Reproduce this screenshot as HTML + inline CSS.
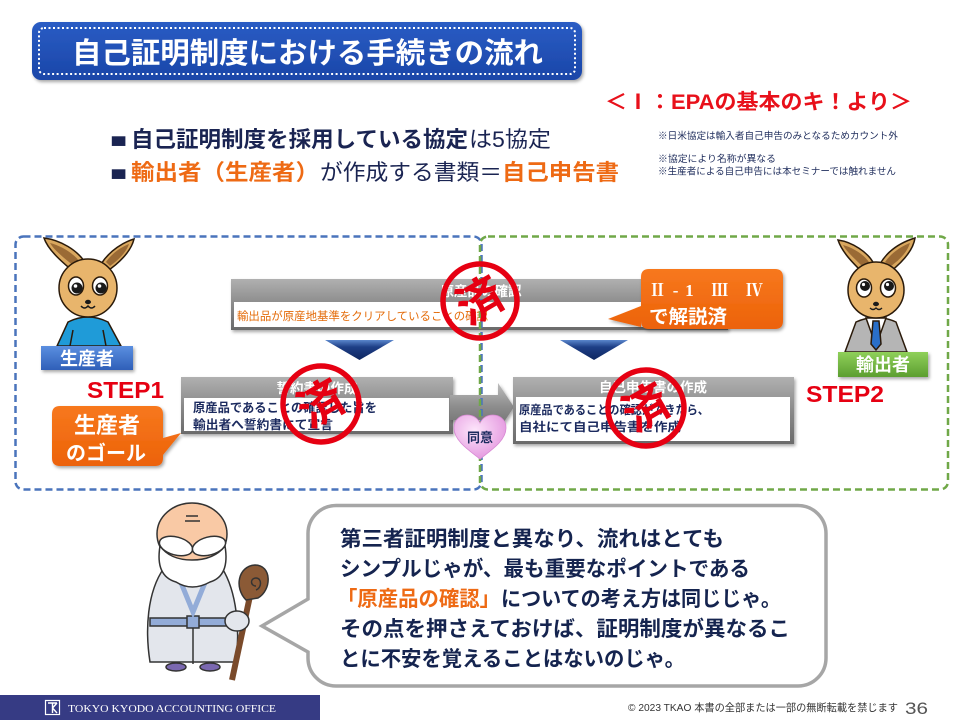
<!DOCTYPE html>
<html><head><meta charset="utf-8"><style>
html,body{margin:0;padding:0;background:#fff}
body{width:960px;height:720px;overflow:hidden;position:relative}
svg{position:absolute;left:0;top:0}
text{font-family:"Liberation Sans","Noto Sans CJK JP",sans-serif}
text.serif{font-family:"Liberation Serif","Noto Serif CJK SC",serif}
</style></head><body>
<svg width="960" height="720" viewBox="0 0 960 720" xmlns="http://www.w3.org/2000/svg">
<defs>
<linearGradient id="tg" x1="0" y1="0" x2="0" y2="1"><stop offset="0" stop-color="#2a5cc4"/><stop offset="1" stop-color="#1a46a8"/></linearGradient>
<linearGradient id="hg" x1="0" y1="0" x2="0" y2="1"><stop offset="0" stop-color="#b0b0b0"/><stop offset="0.5" stop-color="#8a8a8a"/><stop offset="1" stop-color="#6a6a6a"/></linearGradient>
<linearGradient id="ag" x1="0" y1="0" x2="0" y2="1"><stop offset="0" stop-color="#5a86cc"/><stop offset="0.35" stop-color="#1e3f86"/><stop offset="1" stop-color="#0e2660"/></linearGradient>
<linearGradient id="gag" x1="0" y1="0" x2="0" y2="1"><stop offset="0" stop-color="#bdbdbd"/><stop offset="0.5" stop-color="#8c8c8c"/><stop offset="1" stop-color="#6c6c6c"/></linearGradient>
<linearGradient id="og" x1="0" y1="0" x2="0" y2="1"><stop offset="0" stop-color="#f7781e"/><stop offset="1" stop-color="#ec6208"/></linearGradient>
<linearGradient id="bl" x1="0" y1="0" x2="0" y2="1"><stop offset="0" stop-color="#5b8fe0"/><stop offset="1" stop-color="#2f5fb8"/></linearGradient>
<linearGradient id="gl" x1="0" y1="0" x2="0" y2="1"><stop offset="0" stop-color="#8fd05a"/><stop offset="1" stop-color="#5c9e30"/></linearGradient>
<radialGradient id="hr" cx="0.4" cy="0.35" r="0.7"><stop offset="0" stop-color="#fde6fb"/><stop offset="1" stop-color="#e394de"/></radialGradient>
<filter id="sh" x="-10%" y="-20%" width="120%" height="150%"><feDropShadow dx="1.5" dy="2" stdDeviation="1.5" flood-color="#000" flood-opacity="0.35"/></filter>
</defs>

<!-- Title -->
<rect x="32" y="22" width="550" height="58" rx="9" fill="url(#tg)" filter="url(#sh)"/>
<rect x="39" y="28" width="536" height="46" rx="5" fill="none" stroke="#fff" stroke-width="2" stroke-dasharray="2 2.5"/>
<text x="72" y="63" font-size="29" font-weight="bold" fill="#fff" textLength="471" lengthAdjust="spacingAndGlyphs">自己証明制度における手続きの流れ</text>

<!-- Red subtitle -->
<text x="605" y="109" font-size="21" font-weight="bold" fill="#e8101a" textLength="307" lengthAdjust="spacingAndGlyphs">＜Ⅰ：EPAの基本のキ！より＞</text>

<!-- Bullets -->
<text x="110" y="147" font-size="20" fill="#1a2452" textLength="17" lengthAdjust="spacingAndGlyphs">■</text>
<text x="131" y="147" font-size="22" font-weight="bold" fill="#1a2452" textLength="337" lengthAdjust="spacingAndGlyphs">自己証明制度を採用している協定</text>
<text x="469" y="147" font-size="22" fill="#1a2452" textLength="82" lengthAdjust="spacingAndGlyphs">は5協定</text>
<text x="110" y="180" font-size="20" fill="#1a2452" textLength="17" lengthAdjust="spacingAndGlyphs">■</text>
<text x="131" y="180" font-size="22" font-weight="bold" fill="#ee6a14" textLength="188" lengthAdjust="spacingAndGlyphs">輸出者（生産者）</text>
<text x="320" y="180" font-size="22" fill="#1a2452" textLength="182" lengthAdjust="spacingAndGlyphs">が作成する書類＝</text>
<text x="502" y="180" font-size="22" font-weight="bold" fill="#ee6a14" textLength="117" lengthAdjust="spacingAndGlyphs">自己申告書</text>

<!-- Notes -->
<text x="658" y="139" font-size="9.6" fill="#1f2d5c" textLength="240" lengthAdjust="spacingAndGlyphs">※日米協定は輸入者自己申告のみとなるためカウント外</text>
<text x="658" y="162" font-size="9.6" fill="#1f2d5c" textLength="118" lengthAdjust="spacingAndGlyphs">※協定により名称が異なる</text>
<text x="658" y="174.5" font-size="9.6" fill="#1f2d5c" textLength="238" lengthAdjust="spacingAndGlyphs">※生産者による自己申告には本セミナーでは触れません</text>

<!-- Box 1 -->
<g filter="url(#sh)">
<rect x="231" y="279" width="497" height="51" fill="url(#hg)"/>
<rect x="234" y="302" width="488" height="25" fill="#fff"/>
</g>
<text x="481" y="296" font-size="13.5" font-weight="bold" fill="#fff" text-anchor="middle">原産品の確認</text>
<text x="237" y="320" font-size="11.5" fill="#e46c0a" textLength="251" lengthAdjust="spacingAndGlyphs">輸出品が原産地基準をクリアしていることの確認</text>

<!-- Down arrows -->
<polygon points="325,340 394,340 359.5,360" fill="url(#ag)"/>
<polygon points="560,340 628,340 594,360" fill="url(#ag)"/>

<!-- Box 2 -->
<g filter="url(#sh)">
<rect x="181" y="377" width="272" height="57" fill="url(#hg)"/>
<rect x="184" y="398" width="265" height="33" fill="#fff"/>
</g>
<text x="317" y="393" font-size="13.5" font-weight="bold" fill="#fff" text-anchor="middle">誓約書の作成</text>
<text x="193" y="412" font-size="12.3" font-weight="bold" fill="#1b2a5e" textLength="184" lengthAdjust="spacingAndGlyphs">原産品であることの確認した旨を</text>
<text x="193" y="429" font-size="12.3" font-weight="bold" fill="#1b2a5e" textLength="140" lengthAdjust="spacingAndGlyphs">輸出者へ誓約書にて宣言</text>

<!-- Gray arrow -->
<polygon points="450,395 498,395 498,383 514,407 498,431 498,420 450,420" fill="url(#gag)" filter="url(#sh)"/>

<!-- Box 3 -->
<g filter="url(#sh)">
<rect x="513" y="377" width="281" height="67" fill="url(#hg)"/>
<rect x="516" y="397" width="274" height="44" fill="#fff"/>
</g>
<text x="653" y="392" font-size="13.5" font-weight="bold" fill="#fff" text-anchor="middle">自己申告書の作成</text>
<text x="519" y="414" font-size="12" font-weight="bold" fill="#1b2a5e" textLength="190" lengthAdjust="spacingAndGlyphs">原産品であることの確認ができたら、</text>
<text x="519" y="431" font-size="12" font-weight="bold" fill="#1b2a5e" textLength="162" lengthAdjust="spacingAndGlyphs">自社にて自己申告書を作成</text>

<!-- Dashed frames -->
<rect x="15.5" y="236.5" width="466" height="253" rx="8" fill="none" stroke="#4a74bc" stroke-width="2.5" stroke-dasharray="7 4"/>
<rect x="480" y="236.5" width="468" height="253" rx="8" fill="none" stroke="#70a848" stroke-width="2.5" stroke-dasharray="7 4"/>

<!-- Heart -->
<path d="M480 459 C470 451,454 441,454 428 C454 419,461 415,467 415 C474 415,478 419,480 423 C482 419,486 415,493 415 C499 415,506 419,506 428 C506 441,490 451,480 459 Z" fill="url(#hr)" stroke="#d88ad4" stroke-width="0.8"/>
<text x="480" y="442" font-size="13" font-weight="bold" fill="#1b2a5e" text-anchor="middle">同意</text>

<!-- Orange callout: producer goal -->
<path d="M60 406 H155 Q163 406 163 414 V438 L181 433 L163 455 V458 Q163 466 155 466 H60 Q52 466 52 458 V414 Q52 406 60 406 Z" fill="url(#og)" filter="url(#sh)"/>
<text x="107" y="433" font-size="22" font-weight="bold" fill="#fff" text-anchor="middle">生産者</text>
<text x="106" y="460" font-size="20" font-weight="bold" fill="#fff" text-anchor="middle" textLength="80" lengthAdjust="spacingAndGlyphs">のゴール</text>

<!-- Orange callout: explained -->
<path d="M649 269 H775 Q783 269 783 277 V321 Q783 329 775 329 H649 Q641 329 641 321 V327 L608 319 L641 306 V277 Q641 269 649 269 Z" fill="url(#og)" filter="url(#sh)"/>
<text class="serif" x="649" y="296" font-size="17" font-weight="bold" fill="#fff" textLength="114" lengthAdjust="spacing">Ⅱ-1  Ⅲ  Ⅳ</text>
<text x="649" y="323" font-size="19" font-weight="bold" fill="#fff" textLength="78" lengthAdjust="spacingAndGlyphs">で解説済</text>

<!-- STEP labels -->
<text x="87" y="398" font-size="23" font-weight="bold" fill="#e60012" textLength="77" lengthAdjust="spacingAndGlyphs">STEP1</text>
<text x="806" y="402" font-size="23" font-weight="bold" fill="#e60012" textLength="78" lengthAdjust="spacingAndGlyphs">STEP2</text>

<!-- Producer kangaroo -->
<g stroke="#2a1a0a" stroke-width="1.5">
<path d="M74 272 C62 262 48 250 44 238 C60 240 78 250 86 264 Z" fill="#d9a75e"/>
<path d="M74 266 C64 258 54 250 50 243 C62 246 74 254 80 262 Z" fill="#9a6a35" stroke="none"/>
<path d="M101 264 C110 250 124 242 134 239 C131 252 118 264 106 272 Z" fill="#d9a75e"/>
<path d="M106 262 C113 252 122 247 129 244 C126 253 117 261 110 266 Z" fill="#9a6a35" stroke="none"/>
<path d="M57 346 L68 322 Q88 312 108 322 L121 346 Z" fill="#1f9bd8"/>
<path d="M73 330 L70 346 M103 330 L106 346" fill="none"/>
<ellipse cx="88" cy="288" rx="29" ry="29" fill="#e8b56c"/>
<ellipse cx="76" cy="286" rx="7.5" ry="9" fill="#fff"/>
<ellipse cx="100" cy="286" rx="7.5" ry="9" fill="#fff"/>
</g>
<circle cx="77" cy="288" r="5.5" fill="#1a1a1a"/><circle cx="101" cy="288" r="5.5" fill="#1a1a1a"/>
<circle cx="75.5" cy="286" r="1.8" fill="#fff"/><circle cx="99.5" cy="286" r="1.8" fill="#fff"/>
<ellipse cx="88" cy="302" rx="3" ry="2.2" fill="#1a1a1a"/>
<path d="M81 306 Q84.5 310 88 306 Q91.5 310 95 306" fill="none" stroke="#1a1a1a" stroke-width="1.4"/>
<rect x="41" y="346" width="92" height="24" fill="url(#bl)" filter="url(#sh)"/>
<text x="87" y="365" font-size="18" font-weight="bold" fill="#fff" text-anchor="middle">生産者</text>

<!-- Exporter kangaroo -->
<g stroke="#2a1a0a" stroke-width="1.5">
<path d="M862 272 C852 262 842 252 838 240 C852 242 868 252 874 264 Z" fill="#d9a75e"/>
<path d="M862 266 C854 258 846 251 843 245 C854 248 864 255 869 262 Z" fill="#9a6a35" stroke="none"/>
<path d="M880 264 C888 250 902 242 915 238 C913 252 900 264 890 272 Z" fill="#d9a75e"/>
<path d="M885 262 C892 252 902 246 910 243 C907 253 898 261 891 266 Z" fill="#9a6a35" stroke="none"/>
<path d="M845 352 L856 322 Q876 313 896 322 L907 352 Z" fill="#b5b5b5"/>
<path d="M866 318 L876 346 L886 318 Z" fill="#fff"/>
<path d="M873 321 L879 321 L881 344 L876 350 L871 344 Z" fill="#2a6fc8"/>
<ellipse cx="876" cy="290" rx="28" ry="28" fill="#e8b56c"/>
<ellipse cx="864" cy="288" rx="7.5" ry="9" fill="#fff"/>
<ellipse cx="888" cy="288" rx="7.5" ry="9" fill="#fff"/>
</g>
<circle cx="865" cy="286" r="5" fill="#1a1a1a"/><circle cx="889" cy="286" r="5" fill="#1a1a1a"/>
<circle cx="863.5" cy="284.5" r="1.6" fill="#fff"/><circle cx="887.5" cy="284.5" r="1.6" fill="#fff"/>
<ellipse cx="876" cy="304" rx="3" ry="2.2" fill="#1a1a1a"/>
<path d="M870 308 Q873 311 876 308 Q879 311 882 308" fill="none" stroke="#1a1a1a" stroke-width="1.3"/>
<rect x="838" y="352" width="90" height="25" fill="url(#gl)" filter="url(#sh)"/>
<text x="883" y="371" font-size="18" font-weight="bold" fill="#fff" text-anchor="middle">輸出者</text>

<!-- Stamps -->
<g fill="none" stroke="#e60012" stroke-width="5.5">
<circle cx="480" cy="301" r="37"/>
<circle cx="321" cy="404" r="38"/>
<circle cx="646" cy="408" r="38"/>
</g>
<g fill="#e60012" font-size="46" font-weight="bold" text-anchor="middle">
<text x="480" y="317" transform="rotate(-30 480 301)">済</text>
<text x="321" y="420" transform="rotate(-30 321 404)">済</text>
<text x="646" y="424" transform="rotate(-30 646 408)">済</text>
</g>

<!-- Old man -->
<g stroke="#333" stroke-width="1.5">
<path d="M150 662 C145 630 147 592 164 568 L222 568 C237 592 240 630 236 662 Z" fill="#e3e6ec"/>
<path d="M193 612 V664" fill="none"/>
<rect x="150" y="618" width="87" height="8" fill="#93acd8"/>
<rect x="187" y="616" width="12" height="12" fill="#93acd8"/>
<ellipse cx="176" cy="667" rx="10" ry="4" fill="#7a68b0"/>
<ellipse cx="210" cy="667" rx="10" ry="4" fill="#7a68b0"/>
</g>
<path d="M175 568 L193 612 L211 568" fill="none" stroke="#93acd8" stroke-width="5"/>
<g stroke="#333" stroke-width="1.5">
<ellipse cx="192" cy="534" rx="35" ry="31" fill="#f9c9a5"/>
<path d="M160 546 Q155 576 176 582 Q192 592 210 582 Q230 576 225 546 Q214 560 192 560 Q170 560 160 546 Z" fill="#fff"/>
<ellipse cx="176" cy="546" rx="17" ry="9" fill="#fff" transform="rotate(15 176 546)"/>
<ellipse cx="209" cy="546" rx="17" ry="9" fill="#fff" transform="rotate(-15 209 546)"/>
<path d="M186 516 H198 M185 521 H200" fill="none"/>
<path d="M232 680 L250 596" fill="none" stroke="#7a4a2a" stroke-width="6"/>
<path d="M246 600 C234 588 238 566 255 565 C272 565 272 590 258 598 Z" fill="#8b5a36"/>
<path d="M256 586 C250 586 250 578 256 578 C262 578 262 588 256 590" fill="none"/>
<ellipse cx="237" cy="621" rx="12" ry="10" fill="#e3e6ec"/>
</g>

<!-- Speech bubble -->
<path d="M336 505.5 H798 A28 28 0 0 1 826 533.5 V658 A28 28 0 0 1 798 686 H336 A28 28 0 0 1 308 658 V652 L262 626 L308 599 V533.5 A28 28 0 0 1 336 505.5 Z" fill="#fff" stroke="#a6a6a6" stroke-width="3.5"/>
<g font-size="21" font-weight="bold" fill="#15244f">
<text x="340" y="546" textLength="384" lengthAdjust="spacingAndGlyphs">第三者証明制度と異なり、流れはとても</text>
<text x="340" y="576" textLength="410" lengthAdjust="spacingAndGlyphs">シンプルじゃが、最も重要なポイントである</text>
<text x="337" y="606" fill="#ee6a14" textLength="163" lengthAdjust="spacingAndGlyphs">「原産品の確認」</text>
<text x="501" y="606" textLength="280" lengthAdjust="spacingAndGlyphs">についての考え方は同じじゃ。</text>
<text x="340" y="636" textLength="450" lengthAdjust="spacingAndGlyphs">その点を押さえておけば、証明制度が異なるこ</text>
<text x="340" y="666" textLength="345" lengthAdjust="spacingAndGlyphs">とに不安を覚えることはないのじゃ。</text>
</g>

<!-- Footer -->
<rect x="0" y="695" width="320" height="25" fill="#363b84"/>
<rect x="45.5" y="700.5" width="14" height="14" fill="none" stroke="#fff" stroke-width="1.2"/>
<path d="M48 703 H57 M52.5 703 V713 M52.5 708 L57 703 M52.5 708 L57 713" fill="none" stroke="#fff" stroke-width="1.4"/>
<text class="serif" x="68" y="712" font-size="11" fill="#fff" textLength="208" lengthAdjust="spacingAndGlyphs">TOKYO KYODO ACCOUNTING OFFICE</text>
<text x="628" y="711" font-size="10.5" fill="#333" textLength="270" lengthAdjust="spacingAndGlyphs">© 2023 TKAO 本書の全部または一部の無断転載を禁じます</text>
<text x="905" y="714" font-size="17" fill="#555" textLength="23" lengthAdjust="spacingAndGlyphs">36</text>
</svg>
</body></html>
